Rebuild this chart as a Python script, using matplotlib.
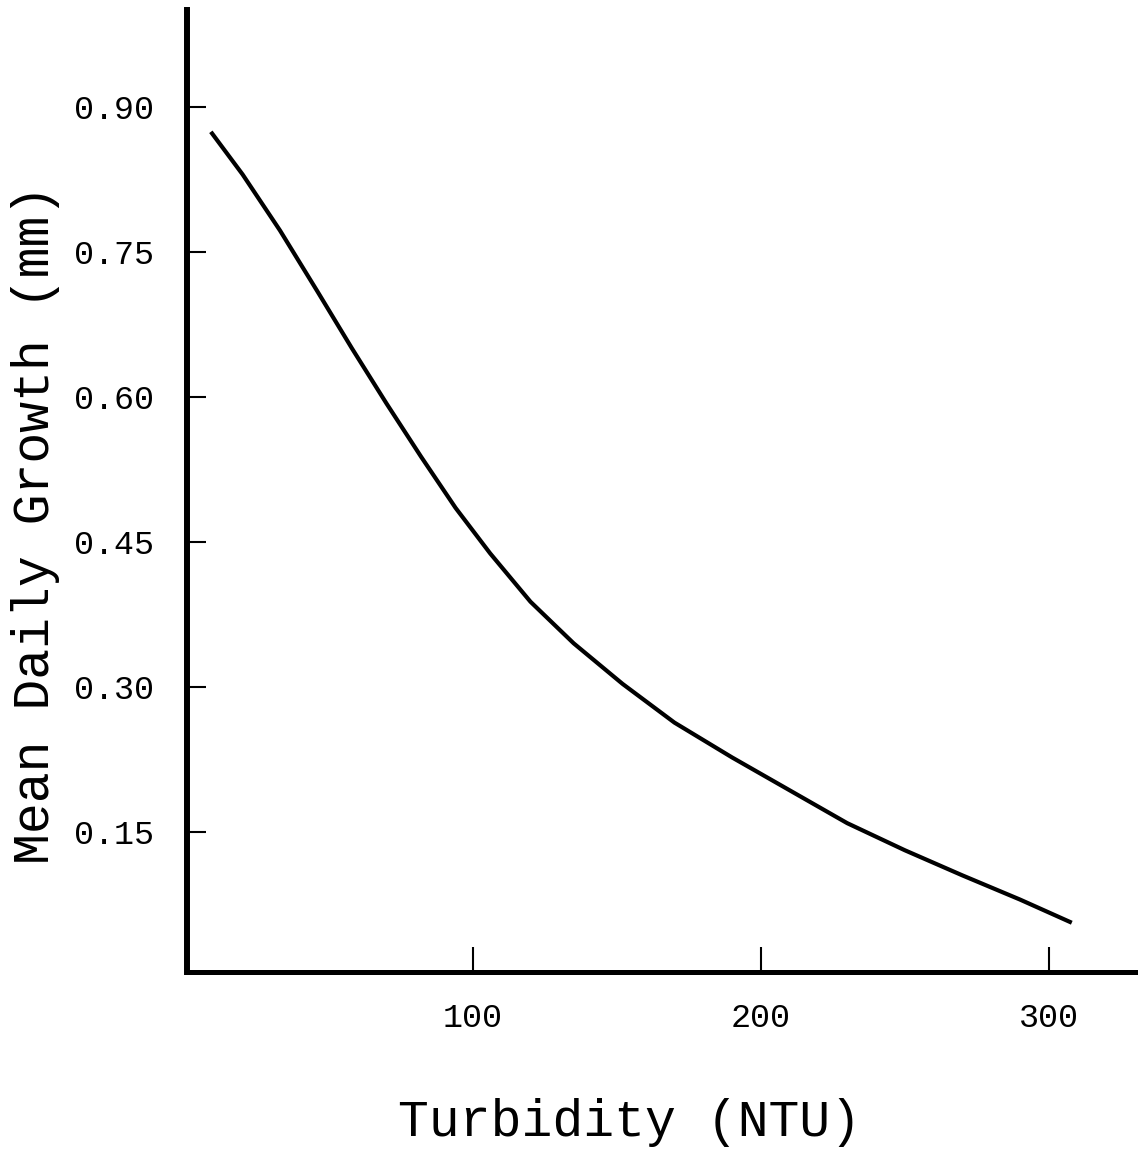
import matplotlib.pyplot as plt
import numpy as np

plt.switch_backend('agg')
plt.rcParams['font.family'] = ['Liberation Mono', 'DejaVu Sans Mono']

# curve
turbidity = [9, 20, 33, 46, 58, 70, 82, 94, 106, 120, 135, 152, 170, 190, 210,
             230, 250, 270, 290, 308]
growth = [0.874, 0.830, 0.772, 0.709, 0.650, 0.593, 0.538, 0.485, 0.438, 0.388,
          0.345, 0.303, 0.263, 0.227, 0.193, 0.159, 0.131, 0.105, 0.080, 0.056]

x_ticks = [100, 200, 300]
y_ticks = [0.15, 0.30, 0.45, 0.60, 0.75, 0.90]
y_tick_labels = ['0.15', '0.30', '0.45', '0.60', '0.75', '0.90']

fig = plt.figure(figsize=(11.38, 11.49), dpi=100)
ax = fig.add_axes([0.1643, 0.154, 0.8357, 0.8373])

ax.plot(turbidity, growth, color='black', lw=3.0, solid_capstyle='butt',
        solid_joinstyle='round')

ax.set_xlim(0.7, 331)
ax.set_ylim(0.005, 1.0)

ax.spines['top'].set_visible(False)
ax.spines['right'].set_visible(False)
ax.spines['left'].set_linewidth(4.3)
ax.spines['bottom'].set_linewidth(3.6)

ax.set_xticks(x_ticks)
ax.set_xticklabels([str(t) for t in x_ticks])
ax.set_yticks(y_ticks)
ax.set_yticklabels(y_tick_labels)

ax.tick_params(axis='y', direction='in', length=14, width=1.5, pad=24, labelsize=24)
ax.tick_params(axis='x', direction='in', length=18, width=1.5, pad=22, labelsize=24)

fig.text(0.553, 0.023, 'Turbidity (NTU)', fontsize=37, ha='center', va='center')
fig.text(0.031, 0.544, 'Mean Daily Growth (mm)', fontsize=37, ha='center', va='center',
         rotation=90)

fig.savefig('out.png', dpi=100, facecolor='white')
plt.close('all')
